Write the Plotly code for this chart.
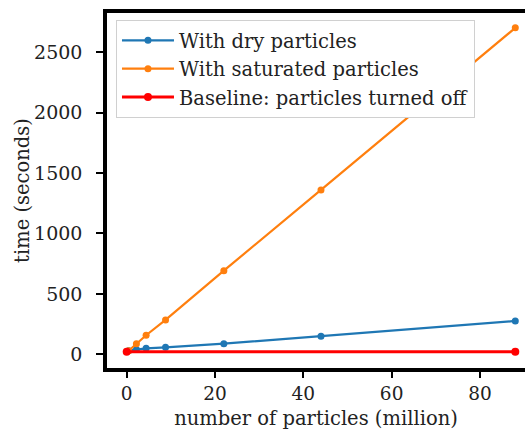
import plotly.graph_objects as go

x_particles = [0.44, 2.2, 4.4, 8.8, 22, 44, 88]
dry_time = [30, 40, 50, 58, 88, 150, 276]
sat_time = [30, 88, 158, 285, 692, 1360, 2700]
base_x = [0, 88]
base_time = [22, 22]

FONT = "DejaVu Serif"

fig = go.Figure()
fig.add_trace(go.Scatter(x=x_particles, y=dry_time, mode="lines+markers",
                         name="With dry particles", cliponaxis=False,
                         line=dict(color="#1f77b4", width=2.2), marker=dict(size=7)))
fig.add_trace(go.Scatter(x=x_particles, y=sat_time, mode="lines+markers",
                         name="With saturated particles", cliponaxis=False,
                         line=dict(color="#ff7f0e", width=2.2), marker=dict(size=7)))
fig.add_trace(go.Scatter(x=base_x, y=base_time, mode="lines+markers",
                         name="Baseline: particles turned off", cliponaxis=False,
                         line=dict(color="red", width=3), marker=dict(size=8)))

fig.update_layout(
    width=525, height=430,
    margin=dict(l=107, r=0, t=13, b=60),
    paper_bgcolor="white", plot_bgcolor="white",
    font=dict(family=FONT, size=19.5, color="#222"),
    showlegend=True,
    legend=dict(x=0.0215, y=0.98, xanchor="left", yanchor="top",
                bgcolor="white", bordercolor="#d0d0d0", borderwidth=1,
                font=dict(family=FONT, size=19.5, color="#222"),
                itemwidth=52, tracegroupgap=0),
)
fig.update_xaxes(range=[-4.46, 90.2], tickvals=[0, 20, 40, 60, 80],
                 showgrid=False, zeroline=False,
                 showline=True, linecolor="black", linewidth=3.5, mirror=True,
                 ticks="outside", ticklen=6, tickwidth=1.5, tickcolor="black",
                 ticklabelstandoff=0,
                 title=dict(text="number of particles (million)", font=dict(size=19.5), standoff=12),
                 tickfont=dict(size=18.5))
fig.update_yaxes(range=[-113, 2823], tickvals=[0, 500, 1000, 1500, 2000, 2500],
                 showgrid=False, zeroline=False,
                 showline=True, linecolor="black", linewidth=3.5, mirror=False,
                 ticks="outside", ticklen=7, tickwidth=1.5, tickcolor="black",
                 ticklabelstandoff=10,
                 title=dict(text="time (seconds)", font=dict(size=19.5), standoff=0),
                 tickfont=dict(size=19))

fig.write_html("out.html", config={"displayModeBar": False},
               post_script="document.body.style.margin='0';")
